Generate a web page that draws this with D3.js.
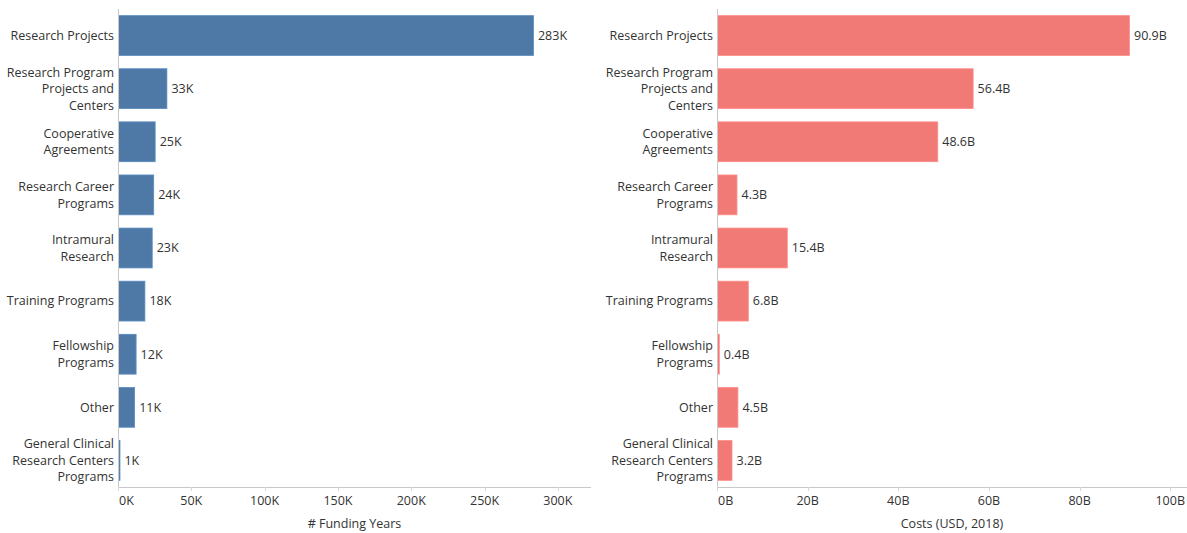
<!DOCTYPE html>
<html>
<head>
<meta charset="utf-8">
<script src="https://cdn.jsdelivr.net/npm/d3@7"></script>
<style>
  body { margin: 0; background: #fff; }
  svg { font-family: "Open Sans", sans-serif; }
</style>
</head>
<body>
<div id="chart"></div>
<script>
const categories = [
  "Research Projects",
  "Research Program|Projects and|Centers",
  "Cooperative|Agreements",
  "Research Career|Programs",
  "Intramural|Research",
  "Training Programs",
  "Fellowship|Programs",
  "Other",
  "General Clinical|Research Centers|Programs",
];
const fundingYears = [283, 33, 25, 24, 23, 18, 12, 11, 1]; // thousands
const costs = [90.9, 56.4, 48.6, 4.3, 15.4, 6.8, 0.4, 4.5, 3.2]; // billions USD
const fundingTicks = [0, 50, 100, 150, 200, 250, 300];
const costTicks = [0, 20, 40, 60, 80, 100];

const width = 1187,
  height = 533,
  fs = "12.5px";
const svg = d3
  .select("#chart")
  .append("svg")
  .attr("width", width)
  .attr("height", height);

function panel(opts) {
  const { x0, x1, top, bottom, values, ticks, max, fmt, tickFmt, color, title } = opts;
  const g = svg.append("g");
  const x = d3.scaleLinear().domain([0, max]).range([x0, x1]);
  const y = d3
    .scaleBand()
    .domain(d3.range(categories.length))
    .range([top, bottom])
    .paddingInner(0.25)
    .paddingOuter(0.125);

  // bars
  g.selectAll("rect.bar")
    .data(values)
    .join("rect")
    .attr("class", "bar")
    .attr("x", x(0) + 0.5)
    .attr("y", (d, i) => y(i))
    .attr("width", (d) => Math.max(1, x(d) - x(0)))
    .attr("height", y.bandwidth())
    .attr("fill", color)
    .attr("stroke", d3.color(color).brighter(0.4))
    .attr("stroke-width", 0.8);

  // value labels
  g.selectAll("text.val")
    .data(values)
    .join("text")
    .attr("class", "val")
    .attr("x", (d) => x(d) + 5)
    .attr("y", (d, i) => y(i) + y.bandwidth() / 2)
    .attr("dy", "0.35em")
    .style("font-size", fs)
    .attr("fill", "#333")
    .text(fmt);

  // category labels
  categories.forEach((c, i) => {
    const lines = c.split("|");
    const cy = y(i) + y.bandwidth() / 2;
    const lh = 16.5;
    const t = g
      .append("text")
      .attr("text-anchor", "end")
      .style("font-size", fs)
      .attr("fill", "#333");
    lines.forEach((l, k) => {
      t.append("tspan")
        .attr("x", x0 - 4)
        .attr("y", cy + (k - (lines.length - 1) / 2) * lh)
        .attr("dy", "0.35em")
        .text(l);
    });
  });

  // axes lines
  g.append("line")
    .attr("x1", x0 + 0.5)
    .attr("x2", x0 + 0.5)
    .attr("y1", top)
    .attr("y2", bottom)
    .attr("stroke", "#c8c8c8");
  g.append("line")
    .attr("x1", x0)
    .attr("x2", x1)
    .attr("y1", bottom + 0.5)
    .attr("y2", bottom + 0.5)
    .attr("stroke", "#c8c8c8");

  // ticks
  g.selectAll("line.tick")
    .data(ticks)
    .join("line")
    .attr("class", "tick")
    .attr("x1", (d) => Math.round(x(d)) + 0.5)
    .attr("x2", (d) => Math.round(x(d)) + 0.5)
    .attr("y1", bottom)
    .attr("y2", bottom + 4)
    .attr("stroke", "#d8d8d8");
  g.selectAll("text.tick")
    .data(ticks)
    .join("text")
    .attr("class", "tick")
    .attr("x", (d, i) => (i === 0 ? x(d) + 1 : x(d)))
    .attr("y", bottom + 14)
    .attr("dy", "0.35em")
    .attr("text-anchor", (d, i) => (i === 0 ? "start" : "middle"))
    .style("font-size", fs)
    .attr("fill", "#333")
    .text(tickFmt);

  g.append("text")
    .attr("x", (x0 + x1) / 2)
    .attr("y", 524)
    .attr("dy", "0.35em")
    .attr("text-anchor", "middle")
    .style("font-size", fs)
    .attr("fill", "#333")
    .text(title);
}

panel({
  x0: 118,
  x1: 591,
  top: 9,
  bottom: 487,
  values: fundingYears,
  ticks: fundingTicks,
  max: 322.6,
  fmt: (d) => d + "K",
  tickFmt: (d) => d + "K",
  color: "#4e79a7",
  title: "# Funding Years",
});

panel({
  x0: 717,
  x1: 1187,
  top: 9,
  bottom: 487,
  values: costs,
  ticks: costTicks,
  max: 103.7,
  fmt: (d) => d.toFixed(1) + "B",
  tickFmt: (d) => d + "B",
  color: "#f17a77",
  title: "Costs (USD, 2018)",
});
</script>
</body>
</html>
